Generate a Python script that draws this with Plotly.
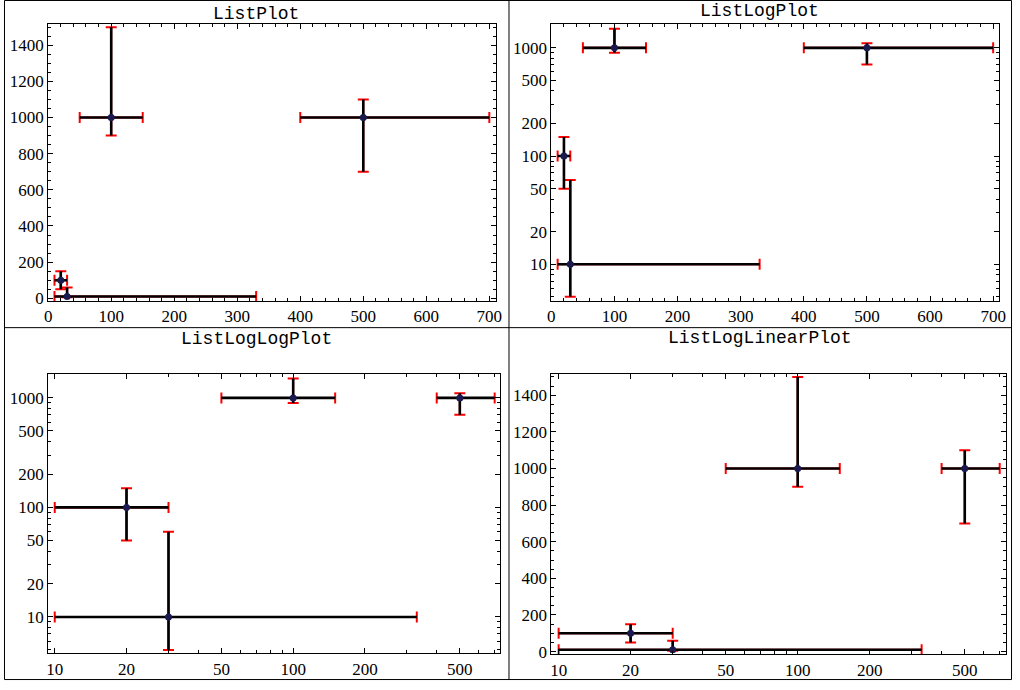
import plotly.graph_objects as go

# ---- data ----
x_vals = [20, 30, 100, 500]
y_vals = [100, 10, 1000, 1000]
x_lo = [10, 10, 50, 400]
x_hi = [30, 330, 150, 700]
y_lo = [50, 5, 900, 700]
y_hi = [150, 60, 1500, 1100]

titles = ["ListPlot", "ListLogPlot", "ListLogLogPlot", "ListLogLinearPlot"]
lin_x_ticks = [0, 100, 200, 300, 400, 500, 600, 700]
lin_y_ticks = [0, 200, 400, 600, 800, 1000, 1200, 1400]
log_y_ticks = [10, 20, 50, 100, 200, 500, 1000]
log_y_minor = [3, 4, 5, 6, 7, 8, 9, 30, 40, 60, 70, 80, 90, 300, 400, 600, 700, 800, 900, 2000]
log_x_ticks = [10, 20, 50, 100, 200, 500]
log_x_minor = [30, 40, 60, 70, 80, 90, 300, 400, 600, 700, 800, 900]

W, H = 1020, 690
def px(v):
    return v / W
def py(v):
    return 1 - v / H

ex_plus = [h - v for h, v in zip(x_hi, x_vals)]
ex_minus = [v - l for l, v in zip(x_lo, x_vals)]
ey_plus = [h - v for h, v in zip(y_hi, y_vals)]
ey_minus = [v - l for l, v in zip(y_lo, y_vals)]

fig = go.Figure()

panels = [
    dict(xd=(44.67, 497.3), yd=(24.33, 304), xt="linear", xr=[0, 710.5], yt="linear", yr=[-14.6, 1517], tx=255, ty=14),
    dict(xd=(553.3, 1006), yd=(24.33, 304), xt="linear", xr=[0, 709.5], yt="log", yr=[0.6615, 3.2196], tx=764, ty=11),
    dict(xd=(44.67, 501.3), yd=(378.3, 660), xt="log", xr=[0.9725, 2.867], yt="log", yr=[0.668, 3.214], tx=255, ty=342),
    dict(xd=(553.3, 1013.3), yd=(377.7, 661), xt="log", xr=[0.9694, 2.873], yt="linear", yr=[-14.6, 1516.7], tx=764, ty=341),
]

tickfont = dict(family="Liberation Serif", size=17, color="black")
annotations = []
for i, p in enumerate(panels):
    n = "" if i == 0 else str(i + 1)
    xa, ya = "x" + n, "y" + n
    # red caps
    fig.add_trace(go.Scatter(
        x=x_vals, y=y_vals, mode="markers", xaxis=xa, yaxis=ya,
        marker=dict(size=1, color="rgba(0,0,0,0)"), showlegend=False, hoverinfo="skip",
        error_x=dict(type="data", array=ex_plus, arrayminus=ex_minus, color="#ff0000", thickness=2, width=5.5),
        error_y=dict(type="data", array=ey_plus, arrayminus=ey_minus, color="#ff0000", thickness=2, width=5.5),
    ))
    # black bars + points
    fig.add_trace(go.Scatter(
        x=x_vals, y=y_vals, mode="markers", xaxis=xa, yaxis=ya,
        marker=dict(size=7, color="#1a1a50"), showlegend=False,
        error_x=dict(type="data", array=ex_plus, arrayminus=ex_minus, color="black", thickness=2.6, width=0),
        error_y=dict(type="data", array=ey_plus, arrayminus=ey_minus, color="black", thickness=2.6, width=0),
    ))
    common = dict(showline=True, linecolor="black", linewidth=1, mirror="allticks",
                  ticks="inside", ticklen=5, tickwidth=1, tickcolor="black",
                  showgrid=False, zeroline=False, tickfont=tickfont)
    if p["xt"] == "linear":
        xaxis = dict(type="linear", range=p["xr"], tickmode="array", tickvals=lin_x_ticks,
                     minor=dict(ticks="inside", ticklen=3, dtick=20, tick0=0, tickcolor="black", showgrid=False), **common)
    else:
        xaxis = dict(type="log", range=p["xr"], tickmode="array", tickvals=log_x_ticks,
                     ticktext=[str(v) for v in log_x_ticks],
                     minor=dict(ticks="inside", ticklen=3, tickmode="array", tickvals=log_x_minor, tickcolor="black", showgrid=False), **common)
    if p["yt"] == "linear":
        yaxis = dict(type="linear", range=p["yr"], tickmode="array", tickvals=lin_y_ticks,
                     minor=dict(ticks="inside", ticklen=3, dtick=50, tick0=0, tickcolor="black", showgrid=False), **common)
    else:
        yaxis = dict(type="log", range=p["yr"], tickmode="array", tickvals=log_y_ticks,
                     ticktext=[str(v) for v in log_y_ticks],
                     minor=dict(ticks="inside", ticklen=3, tickmode="array", tickvals=log_y_minor, tickcolor="black", showgrid=False), **common)
    xaxis.update(domain=[px(p["xd"][0]), px(p["xd"][1])], anchor=ya)
    yaxis.update(domain=[py(p["yd"][1]), py(p["yd"][0])], anchor=xa)
    fig.update_layout(**{"xaxis" + n: xaxis, "yaxis" + n: yaxis})
    annotations.append(dict(text=titles[i], x=px(p["tx"]), y=py(p["ty"]), xref="paper", yref="paper",
                            xanchor="center", yanchor="middle", showarrow=False,
                            font=dict(family="Liberation Mono", size=18, color="black")))

shapes = [
    dict(type="rect", xref="paper", yref="paper", x0=px(0.5), x1=px(1018.5), y0=py(686.5), y1=py(0.5),
         line=dict(color="black", width=1)),
    dict(type="line", xref="paper", yref="paper", x0=px(510.5), x1=px(510.5), y0=py(0), y1=py(687),
         line=dict(color="black", width=1)),
    dict(type="line", xref="paper", yref="paper", x0=px(0), x1=px(1019), y0=py(331), y1=py(331),
         line=dict(color="black", width=1)),
]

fig.update_layout(width=W, height=H, margin=dict(l=0, r=0, t=0, b=0), autosize=False,
                  paper_bgcolor="white", plot_bgcolor="white",
                  annotations=annotations, shapes=shapes, showlegend=False)

post = ("var s=document.createElement('style');"
        "s.innerHTML='html,body{margin:0;padding:0;overflow:hidden;}';"
        "document.head.appendChild(s);")
fig.write_html("out.html", config={"displayModeBar": False, "responsive": False}, post_script=post)
